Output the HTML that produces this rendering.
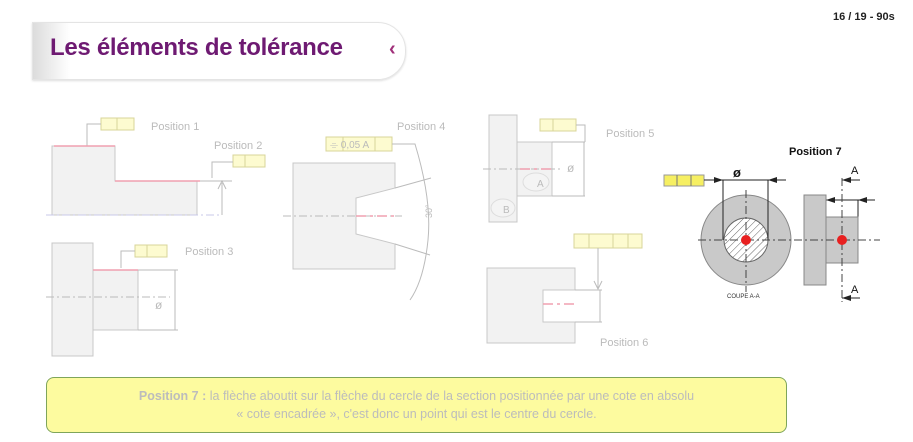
<!DOCTYPE html>
<html><head><meta charset="utf-8"><style>
body{margin:0;width:913px;height:442px;background:#fff;overflow:hidden;font-family:"Liberation Sans",sans-serif;position:relative}
.t{position:absolute}
</style></head><body>
<div class="t" style="left:32px;top:22px;width:372px;height:56px;border:1px solid #e4e4e4;border-radius:0 28px 28px 0;background:linear-gradient(90deg,#dcdcdc 0%,#fff 10%,#fff 100%);box-shadow:0 1px 2px #ddd"></div>
<div class="t" style="left:50px;top:34px;font-size:24px;font-weight:bold;color:#6e1a72;letter-spacing:-0.3px">Les éléments de tolérance</div>
<div class="t" style="left:389px;top:38px;font-size:20px;font-weight:bold;color:#a0307a">‹</div>
<div class="t" style="left:833px;top:11px;font-size:11px;font-weight:bold;color:#222">16 / 19 - 90s</div>
<svg class="t" style="left:0;top:0" width="913" height="442" font-family="Liberation Sans, sans-serif">
<g stroke="#c8c8c8" stroke-width="1" fill="#f2f2f2">
<!-- pos1 -->
<path d="M52 146H115V181H197V215H52Z"/>
<!-- pos3 -->
<rect x="52" y="243" width="41" height="113"/><rect x="93" y="270" width="45" height="60"/>
<!-- pos4 -->
<path d="M293 163H395V188L356 198V234L395 244V269H293Z"/>
<!-- pos5 -->
<rect x="489" y="115" width="28" height="107"/><rect x="517" y="142" width="35" height="54"/>
<!-- pos6 -->
<path d="M487 268H575V290H543V322H575V343H487Z"/>
</g>
<g fill="#fdfbd0" stroke="#d8d49a">
<rect x="101" y="118" width="33" height="12"/><line x1="117" y1="118" x2="117" y2="130"/>
<rect x="233" y="155" width="32" height="12"/><line x1="245" y1="155" x2="245" y2="167"/>
<rect x="135" y="245" width="32" height="12"/><line x1="147" y1="245" x2="147" y2="257"/>
<rect x="326" y="137" width="66" height="14"/><line x1="343" y1="137" x2="343" y2="151"/><line x1="375" y1="137" x2="375" y2="151"/>
<rect x="540" y="119" width="36" height="12"/><line x1="553" y1="119" x2="553" y2="131"/>
<rect x="574" y="234" width="68" height="14"/><line x1="589" y1="234" x2="589" y2="248"/><line x1="613" y1="234" x2="613" y2="248"/><line x1="628" y1="234" x2="628" y2="248"/>
</g>
<g stroke="#bbb" fill="none" stroke-width="1">
<path d="M101 124H87V146"/><path d="M233 162H212V178"/><path d="M222 215V183"/><path d="M218 189L222 181L226 189"/><line x1="200" y1="181" x2="232" y2="181"/>
<path d="M135 251H121V268"/>
<line x1="138" y1="270" x2="178" y2="270"/><line x1="138" y1="330" x2="178" y2="330"/><line x1="175" y1="270" x2="175" y2="330"/>
<path d="M392 144H415Q432 200 428 240T410 300"/>
<line x1="395" y1="188" x2="431" y2="178"/><line x1="395" y1="244" x2="430" y2="255"/>
<path d="M576 125H585V142"/><line x1="552" y1="142" x2="585" y2="142"/><line x1="552" y1="196" x2="585" y2="196"/><line x1="584" y1="142" x2="584" y2="196"/>
<line x1="598" y1="248" x2="598" y2="288"/><path d="M594 281L598 289L602 281"/><line x1="575" y1="290" x2="602" y2="290"/><line x1="575" y1="322" x2="602" y2="322"/><line x1="600" y1="290" x2="600" y2="322"/>
</g>
<g stroke-dasharray="8 3 2 3" stroke-width="1">
<line x1="46" y1="215" x2="220" y2="215" stroke="#c8c8e8"/>
<line x1="46" y1="297" x2="170" y2="297" stroke="#bbb"/>
<line x1="283" y1="216" x2="402" y2="216" stroke="#bbb"/>
<line x1="483" y1="169" x2="560" y2="169" stroke="#bbb"/>
</g>
<g stroke="#f0a0b0" stroke-width="1.5">
<line x1="54" y1="146" x2="115" y2="146"/><line x1="115" y1="181" x2="200" y2="181"/><line x1="93" y1="270" x2="138" y2="270"/>
<line x1="356" y1="216" x2="395" y2="216" stroke-dasharray="10 4 3 4"/>
<line x1="520" y1="169" x2="552" y2="169" stroke-dasharray="10 4 3 4"/>
<line x1="543" y1="304" x2="575" y2="304" stroke-dasharray="10 4 3 4"/>
</g>
<g fill="#f4f4f4" stroke="#ddd"><ellipse cx="536" cy="182" rx="13" ry="9"/><ellipse cx="503" cy="208" rx="12" ry="9"/></g>
<g fill="#bbb" font-size="11">
<text x="151" y="130">Position 1</text><text x="214" y="149">Position 2</text><text x="185" y="255">Position 3</text>
<text x="397" y="130">Position 4</text><text x="606" y="137">Position 5</text><text x="600" y="346">Position 6</text>
<text x="537" y="187" font-size="10">A</text><text x="503" y="213" font-size="10">B</text>
<text x="155" y="309" font-size="12">ø</text><text x="567" y="172" font-size="12">ø</text>
<text x="330" y="148" font-size="10">⌯  0,05   A</text>
<text x="432" y="218" font-size="9" transform="rotate(-90 432 218)">30°</text>
</g>
<!-- position 7 -->
<text x="789" y="155" font-size="11" font-weight="bold" fill="#111">Position 7</text>
<rect x="664" y="175" width="40" height="11" fill="#f6ef62" stroke="#999"/>
<line x1="677" y1="175" x2="677" y2="186" stroke="#777"/><line x1="691" y1="175" x2="691" y2="186" stroke="#777"/>
<circle cx="746" cy="240" r="45" fill="#c9c9c9" stroke="#888"/>
<defs><pattern id="h" width="5" height="5" patternUnits="userSpaceOnUse" patternTransform="rotate(45)"><rect width="5" height="5" fill="#fff"/><line x1="0" y1="0" x2="0" y2="5" stroke="#666" stroke-width="1"/></pattern></defs>
<circle cx="746" cy="240" r="22" fill="url(#h)" stroke="#666"/>
<g stroke="#222" fill="none" stroke-width="1">
<line x1="704" y1="180" x2="786" y2="180"/><line x1="723" y1="180" x2="723" y2="240"/><line x1="768" y1="180" x2="768" y2="240"/>
<line x1="823" y1="200" x2="875" y2="200"/><line x1="858" y1="200" x2="858" y2="217"/>
<line x1="842" y1="180" x2="860" y2="180"/><line x1="842" y1="298" x2="860" y2="298"/>
</g>
<g fill="#222"><path d="M723 180l-9-3v6z"/><path d="M768 180l9-3v6z"/><path d="M826 200l9-3v6z"/><path d="M858 200l9-3v6z"/><path d="M842 180l9-3v6z"/><path d="M842 298l9-3v6z"/></g>
<text x="733" y="177" font-size="13" font-weight="bold" fill="#111">ø</text>
<rect x="804" y="195" width="22" height="90" fill="#c9c9c9" stroke="#888"/>
<rect x="826" y="217" width="32" height="46" fill="#c9c9c9" stroke="#888"/>
<g stroke="#444" stroke-dasharray="8 3 2 3"><line x1="698" y1="240" x2="880" y2="240"/><line x1="746" y1="190" x2="746" y2="292"/><line x1="842" y1="178" x2="842" y2="302"/></g>
<circle cx="746" cy="240" r="5" fill="#e82020"/><circle cx="842" cy="240" r="5" fill="#e82020"/>
<text x="851" y="174" font-size="11" fill="#111">A</text><text x="851" y="293" font-size="11" fill="#111">A</text>
<text x="727" y="298" font-size="6" fill="#333">COUPE A-A</text>
</svg>
<div class="t" style="left:46px;top:377px;width:741px;height:56px;background:#fdfb9f;border:1.5px solid #7fa55a;border-radius:8px;box-sizing:border-box;text-align:center;color:#bcbcbc;font-size:12.5px;line-height:18px;padding-top:9px"><b>Position 7 :</b> la flèche aboutit sur la flèche du cercle de la section positionnée par une cote en absolu<br>« cote encadrée », c'est donc un point qui est le centre du cercle.</div>
</body></html>
